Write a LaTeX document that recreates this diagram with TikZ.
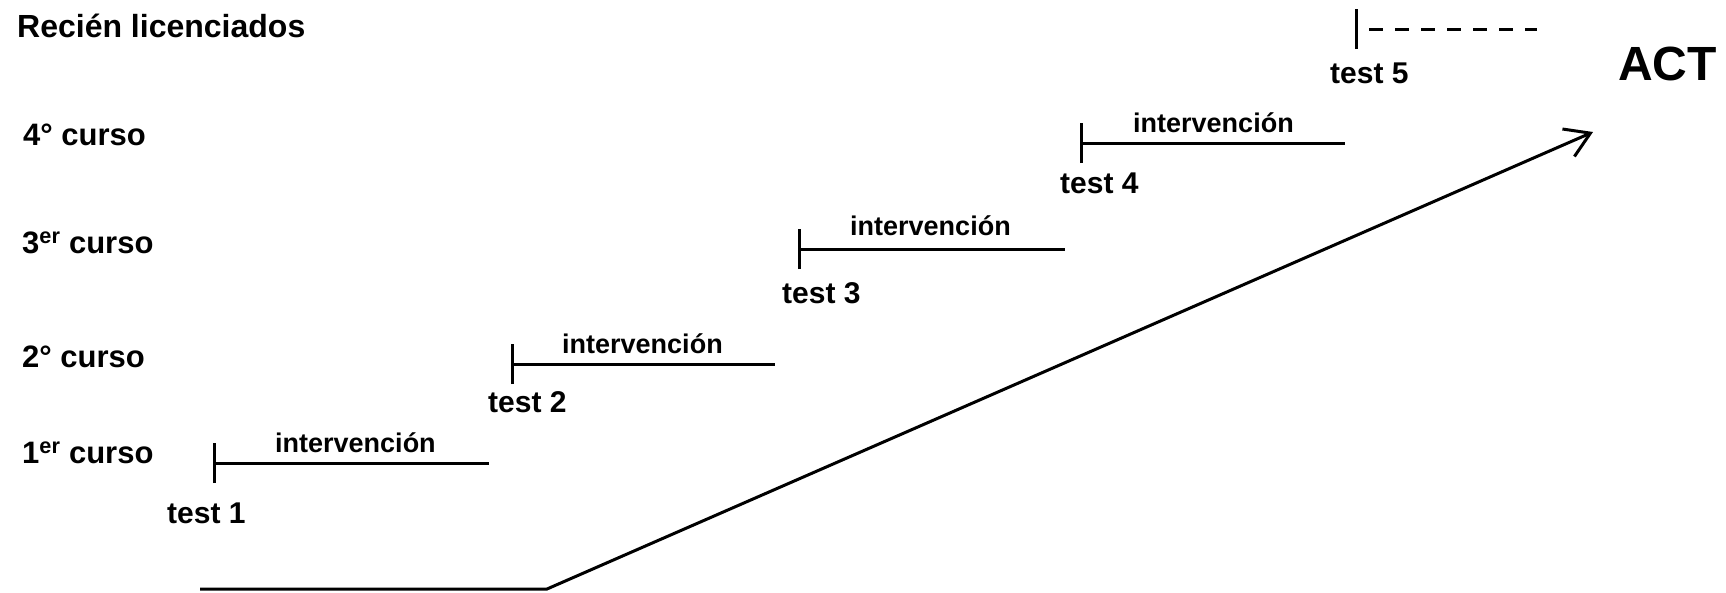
\documentclass[tikz,border=0pt]{standalone}
\usepackage{fontspec}
\setmainfont{Liberation Sans}
\usetikzlibrary{arrows.meta}

\tikzset{
  curso/.style = {anchor=base west, inner sep=0pt, font=\bfseries\fontsize{31}{36}\selectfont},
  testlbl/.style = {anchor=base west, inner sep=0pt, font=\bfseries\fontsize{30}{36}\selectfont},
  interv/.style = {anchor=base west, inner sep=0pt, font=\bfseries\fontsize{27}{32}\selectfont},
  track/.style = {line width=3pt, {Bar[width=40pt]}-},
  rise/.style = {line width=3pt, -{Straight Barb[length=24pt, width=30pt, line width=3pt]}}
}

\begin{document}
\begin{tikzpicture}[x=1pt, y=-1pt]
\useasboundingbox (0,0) rectangle (1726,592);

% cursos
\node[curso, font=\bfseries\fontsize{32}{38}\selectfont] (rl) at (17,37) {Recién licenciados};
\node[curso] (c4) at (23,145) {4° curso};
\node[curso] (c3) at (22,253) {3\textsuperscript{er} curso};
\node[curso] (c2) at (22,367) {2° curso};
\node[curso] (c1) at (22,463) {1\textsuperscript{er} curso};

% tramos
\coordinate (t1) at (213,463);  \coordinate (e1) at (489,463);
\coordinate (t2) at (511,364);  \coordinate (e2) at (775,364);
\coordinate (t3) at (798,249);  \coordinate (e3) at (1065,249);
\coordinate (t4) at (1080,143); \coordinate (e4) at (1345,143);
\coordinate (t5) at (1355,29);  \coordinate (e5) at (1537,29);

\draw[track] (t1) -- (e1);
\draw[track] (t2) -- (e2);
\draw[track] (t3) -- (e3);
\draw[track] (t4) -- (e4);
\draw[track, dash pattern=on 14pt off 12pt, dash phase=14pt] (t5) -- (e5);

\node[interv] (i1) at (275,452) {intervención};
\node[interv] (i2) at (562,353) {intervención};
\node[interv] (i3) at (850,235) {intervención};
\node[interv] (i4) at (1133,132) {intervención};

\node[testlbl] (x1) at (167,523) {test 1};
\node[testlbl] (x2) at (488,412) {test 2};
\node[testlbl] (x3) at (782,303) {test 3};
\node[testlbl] (x4) at (1060,193) {test 4};
\node[testlbl] (x5) at (1330,83) {test 5};

% ACT
\node[anchor=base west, inner sep=0pt, font=\bfseries\fontsize{48}{56}\selectfont] (act) at (1618,80) {ACT};
\coordinate (s) at (200,589);
\coordinate (k) at (547,589);
\coordinate (a) at (1593,132);
\draw[rise] (s) -- (k) -- (a);
\end{tikzpicture}
\end{document}
